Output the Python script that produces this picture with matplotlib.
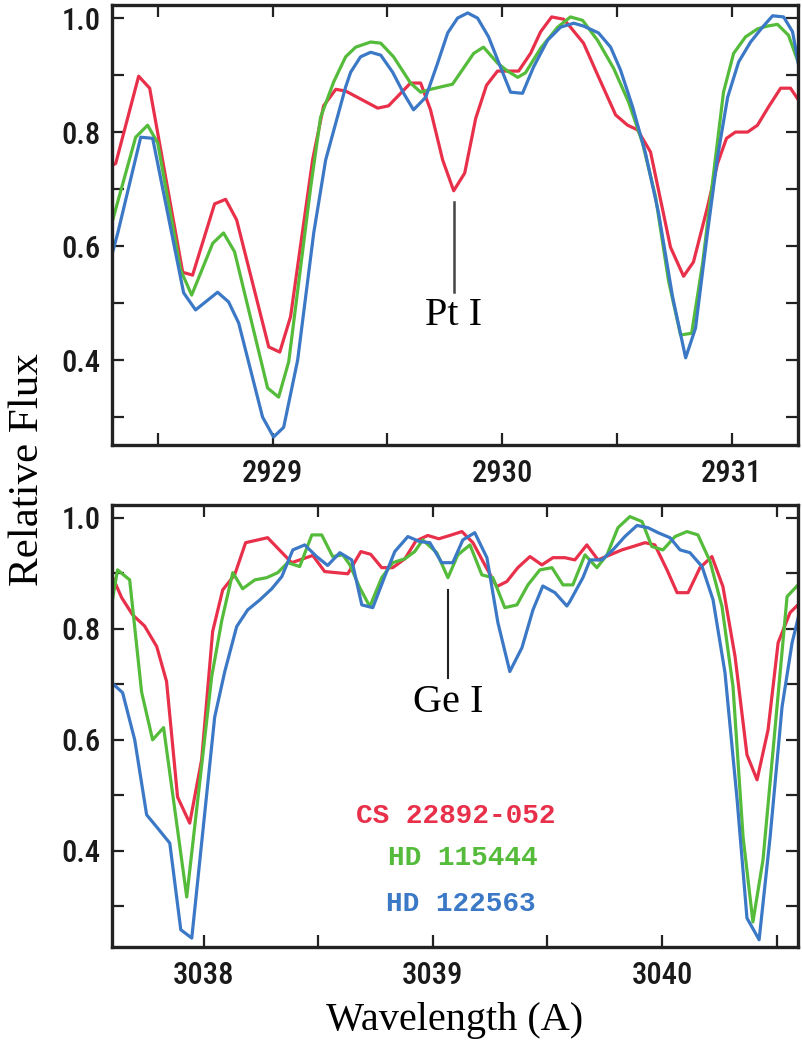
import matplotlib
matplotlib.use("Agg")
import matplotlib.pyplot as plt
from matplotlib.ticker import MultipleLocator

# Pt I region (top panel)
wl_top_cs = [2928.303, 2928.316, 2928.416, 2928.464, 2928.608, 2928.651, 2928.747, 2928.795,
             2928.843, 2928.983, 2929.031, 2929.078, 2929.174, 2929.222, 2929.275, 2929.318,
             2929.458, 2929.505, 2929.601, 2929.645, 2929.688, 2929.741, 2929.789, 2929.837,
             2929.885, 2929.932, 2929.980, 2930.072, 2930.124, 2930.168, 2930.216, 2930.268,
             2930.290, 2930.355, 2930.420, 2930.495, 2930.547, 2930.590, 2930.647, 2930.734,
             2930.791, 2930.834, 2930.895, 2930.939, 2930.978, 2931.017, 2931.070, 2931.113,
             2931.161, 2931.214, 2931.257, 2931.292]
flux_top_cs = [0.742, 0.745, 0.898, 0.877, 0.554, 0.549, 0.674, 0.682,
               0.646, 0.423, 0.414, 0.476, 0.751, 0.846, 0.875, 0.872,
               0.842, 0.846, 0.886, 0.886, 0.839, 0.751, 0.697, 0.728,
               0.824, 0.882, 0.907, 0.907, 0.938, 0.976, 1.002, 0.998,
               0.988, 0.956, 0.897, 0.830, 0.812, 0.804, 0.765, 0.598,
               0.547, 0.572, 0.668, 0.745, 0.789, 0.800, 0.800, 0.812,
               0.844, 0.877, 0.877, 0.856]

wl_top_hd1 = [2928.303, 2928.403, 2928.455, 2928.499, 2928.599, 2928.647, 2928.739, 2928.786,
              2928.834, 2928.978, 2929.026, 2929.070, 2929.166, 2929.209, 2929.266, 2929.318,
              2929.362, 2929.427, 2929.471, 2929.527, 2929.601, 2929.645, 2929.688, 2929.784,
              2929.876, 2929.919, 2929.980, 2930.024, 2930.068, 2930.102, 2930.168, 2930.242,
              2930.298, 2930.351, 2930.416, 2930.486, 2930.551, 2930.612, 2930.669, 2930.725,
              2930.778, 2930.826, 2930.874, 2930.922, 2930.965, 2931.009, 2931.061, 2931.113,
              2931.157, 2931.200, 2931.248, 2931.292]
flux_top_hd1 = [0.646, 0.791, 0.812, 0.781, 0.558, 0.514, 0.605, 0.623,
                0.590, 0.351, 0.335, 0.397, 0.704, 0.826, 0.888, 0.932,
                0.949, 0.958, 0.956, 0.932, 0.886, 0.870, 0.875, 0.884,
                0.938, 0.949, 0.921, 0.907, 0.896, 0.904, 0.947, 0.984,
                1.002, 0.996, 0.961, 0.912, 0.853, 0.781, 0.686, 0.540,
                0.444, 0.447, 0.570, 0.728, 0.870, 0.938, 0.967, 0.981,
                0.986, 0.989, 0.970, 0.921]

wl_top_hd2 = [2928.303, 2928.325, 2928.425, 2928.477, 2928.612, 2928.664, 2928.760, 2928.808,
              2928.852, 2928.956, 2929.004, 2929.048, 2929.109, 2929.179, 2929.231, 2929.318,
              2929.340, 2929.383, 2929.427, 2929.471, 2929.523, 2929.571, 2929.614, 2929.667,
              2929.719, 2929.763, 2929.806, 2929.850, 2929.893, 2929.941, 2929.993, 2930.037,
              2930.089, 2930.137, 2930.198, 2930.255, 2930.312, 2930.355, 2930.420, 2930.473,
              2930.516, 2930.569, 2930.625, 2930.682, 2930.743, 2930.800, 2930.843, 2930.895,
              2930.939, 2930.983, 2931.031, 2931.083, 2931.135, 2931.179, 2931.227, 2931.266,
              2931.292]
flux_top_hd2 = [0.590, 0.623, 0.791, 0.789, 0.518, 0.488, 0.519, 0.502,
                0.465, 0.300, 0.265, 0.282, 0.400, 0.623, 0.751, 0.879,
                0.905, 0.932, 0.940, 0.935, 0.905, 0.868, 0.839, 0.861,
                0.921, 0.974, 1.000, 1.009, 1.000, 0.967, 0.914, 0.870,
                0.868, 0.914, 0.961, 0.984, 0.991, 0.986, 0.974, 0.949,
                0.909, 0.844, 0.763, 0.658, 0.511, 0.404, 0.456, 0.623,
                0.756, 0.861, 0.923, 0.958, 0.984, 1.004, 1.002, 0.976,
                0.918]

# Ge I region (bottom panel)
wl_bot_cs = [3037.598, 3037.642, 3037.690, 3037.742, 3037.795, 3037.838, 3037.886, 3037.939,
             3037.991, 3038.039, 3038.083, 3038.135, 3038.183, 3038.279, 3038.384, 3038.476,
             3038.528, 3038.629, 3038.686, 3038.729, 3038.777, 3038.825, 3038.878, 3038.926,
             3038.978, 3039.026, 3039.074, 3039.127, 3039.175, 3039.227, 3039.279, 3039.323,
             3039.371, 3039.424, 3039.476, 3039.524, 3039.576, 3039.620, 3039.672, 3039.721,
             3039.773, 3039.825, 3039.873, 3039.926, 3039.969, 3040.022, 3040.066, 3040.114,
             3040.166, 3040.218, 3040.266, 3040.319, 3040.371, 3040.415, 3040.463, 3040.507,
             3040.559, 3040.603]
flux_bot_cs = [0.897, 0.856, 0.825, 0.805, 0.768, 0.705, 0.497, 0.450,
               0.564, 0.795, 0.870, 0.897, 0.955, 0.964, 0.919, 0.932,
               0.903, 0.899, 0.939, 0.934, 0.910, 0.910, 0.926, 0.958,
               0.968, 0.962, 0.968, 0.975, 0.955, 0.915, 0.876, 0.885,
               0.910, 0.930, 0.915, 0.928, 0.928, 0.924, 0.951, 0.924,
               0.933, 0.942, 0.948, 0.955, 0.951, 0.906, 0.865, 0.865,
               0.910, 0.930, 0.876, 0.750, 0.573, 0.528, 0.618, 0.775,
               0.829, 0.847]

wl_bot_hd1 = [3037.598, 3037.624, 3037.677, 3037.729, 3037.777, 3037.825, 3037.926, 3038.035,
              3038.079, 3038.127, 3038.170, 3038.223, 3038.275, 3038.323, 3038.367, 3038.419,
              3038.472, 3038.515, 3038.563, 3038.607, 3038.638, 3038.681, 3038.725, 3038.777,
              3038.825, 3038.878, 3038.921, 3038.956, 3039.017, 3039.066, 3039.109, 3039.162,
              3039.214, 3039.262, 3039.314, 3039.367, 3039.415, 3039.467, 3039.520, 3039.568,
              3039.611, 3039.664, 3039.716, 3039.760, 3039.808, 3039.860, 3039.913, 3039.956,
              3040.004, 3040.057, 3040.109, 3040.157, 3040.210, 3040.262, 3040.310, 3040.354,
              3040.397, 3040.441, 3040.493, 3040.546, 3040.594]
flux_bot_hd1 = [0.843, 0.906, 0.888, 0.686, 0.600, 0.622, 0.317, 0.714,
                0.815, 0.901, 0.872, 0.888, 0.892, 0.901, 0.919, 0.912,
                0.969, 0.969, 0.930, 0.933, 0.915, 0.874, 0.840, 0.892,
                0.919, 0.926, 0.939, 0.960, 0.937, 0.892, 0.933, 0.951,
                0.897, 0.892, 0.838, 0.843, 0.879, 0.906, 0.910, 0.879,
                0.879, 0.933, 0.910, 0.933, 0.982, 1.002, 0.993, 0.948,
                0.942, 0.966, 0.975, 0.969, 0.921, 0.840, 0.696, 0.425,
                0.272, 0.384, 0.618, 0.858, 0.879]

wl_bot_hd2 = [3037.598, 3037.646, 3037.699, 3037.751, 3037.799, 3037.852, 3037.900, 3037.948,
              3038.048, 3038.092, 3038.144, 3038.192, 3038.245, 3038.297, 3038.341, 3038.389,
              3038.441, 3038.493, 3038.541, 3038.594, 3038.646, 3038.690, 3038.738, 3038.790,
              3038.834, 3038.891, 3038.943, 3038.987, 3039.039, 3039.087, 3039.131, 3039.183,
              3039.236, 3039.284, 3039.336, 3039.389, 3039.437, 3039.480, 3039.533, 3039.585,
              3039.598, 3039.655, 3039.686, 3039.738, 3039.786, 3039.838, 3039.891, 3039.939,
              3039.983, 3040.035, 3040.079, 3040.122, 3040.175, 3040.223, 3040.275, 3040.328,
              3040.371, 3040.424, 3040.472, 3040.524, 3040.568, 3040.603]
flux_bot_hd2 = [0.703, 0.685, 0.600, 0.465, 0.441, 0.414, 0.258, 0.243,
                0.641, 0.723, 0.804, 0.834, 0.852, 0.872, 0.894, 0.942,
                0.951, 0.930, 0.914, 0.937, 0.924, 0.843, 0.838, 0.894,
                0.939, 0.966, 0.957, 0.955, 0.919, 0.919, 0.960, 0.973,
                0.928, 0.811, 0.723, 0.766, 0.834, 0.877, 0.865, 0.841,
                0.849, 0.892, 0.924, 0.924, 0.942, 0.966, 0.986, 0.982,
                0.973, 0.964, 0.942, 0.937, 0.912, 0.852, 0.721, 0.492,
                0.279, 0.240, 0.425, 0.659, 0.775, 0.834]

stars = ["CS 22892-052", "HD 115444", "HD 122563"]
colors = ["#e8304a", "#55bb3b", "#3b78c6"]

TICK_FONT = ["Roboto Condensed", "DejaVu Sans"]
LABEL_FONT = "Liberation Serif"
LEGEND_FONT = "Liberation Mono"

fig = plt.figure(figsize=(8.02, 10.55), dpi=100)
a = fig.add_axes([0.1397, 0.5782, 0.8554, 0.4171])
b = fig.add_axes([0.1397, 0.1024, 0.8554, 0.4190])

top = [(wl_top_cs, flux_top_cs), (wl_top_hd1, flux_top_hd1), (wl_top_hd2, flux_top_hd2)]
bot = [(wl_bot_cs, flux_bot_cs), (wl_bot_hd1, flux_bot_hd1), (wl_bot_hd2, flux_bot_hd2)]
for (x, y), c in zip(top, colors):
    a.plot(x, y, color=c, lw=2.3)
for (x, y), c in zip(bot, colors):
    b.plot(x, y, color=c, lw=2.3)

a.set_xlim(2928.30, 2931.29)
a.set_ylim(0.251, 1.023)
b.set_xlim(3037.60, 3040.594)
b.set_ylim(0.227, 1.023)

for ax in (a, b):
    ax.xaxis.set_major_locator(MultipleLocator(1.0))
    ax.xaxis.set_minor_locator(MultipleLocator(0.5))
    ax.yaxis.set_major_locator(MultipleLocator(0.2))
    ax.yaxis.set_minor_locator(MultipleLocator(0.1))
    ax.xaxis.set_major_formatter(plt.FuncFormatter(lambda v, p: "%d" % round(v)))
    ax.yaxis.set_major_formatter(plt.FuncFormatter(lambda v, p: "%.1f" % v))
    ax.tick_params(which="both", direction="in", top=True, right=True,
                   length=8.5, width=1.6, color="#222222")
    ax.tick_params(axis="x", which="major", pad=10)
    ax.tick_params(axis="y", which="major", pad=8)
    for s in ax.spines.values():
        s.set_linewidth(2.4)
        s.set_color("#222222")
    for lab in ax.get_xticklabels() + ax.get_yticklabels():
        lab.set_family(TICK_FONT)
        lab.set_stretch("condensed")
        lab.set_weight("medium")
        lab.set_fontsize(22)
        lab.set_color("#1a1a1a")

# line identifications
a.plot([2929.789, 2929.789], [0.519, 0.677], color="#444444", lw=1.8)
a.text(2929.789, 0.479, "Pt I", family=LABEL_FONT, fontsize=29,
       ha="center", va="center")
b.plot([3039.066, 3039.066], [0.712, 0.870], color="#222222", lw=1.5)
b.text(3039.066, 0.668, "Ge I", family=LABEL_FONT, fontsize=29,
       ha="center", va="center")

legend_pos = [(3039.100, 0.463), (3039.131, 0.387), (3039.122, 0.305)]
for name, c, (lx, ly) in zip(stars, colors, legend_pos):
    b.text(lx, ly, name, color=c, family=LEGEND_FONT, weight="bold",
           fontsize=20, ha="center", va="center")

fig.text(0.035, 0.5545, "Relative Flux", rotation=90, family=LABEL_FONT,
         fontsize=31, ha="center", va="center")
fig.text(0.567, 0.033, "Wavelength (A)", family=LABEL_FONT,
         fontsize=29, ha="center", va="center")

plt.savefig("out.png", dpi=100)
plt.close()
